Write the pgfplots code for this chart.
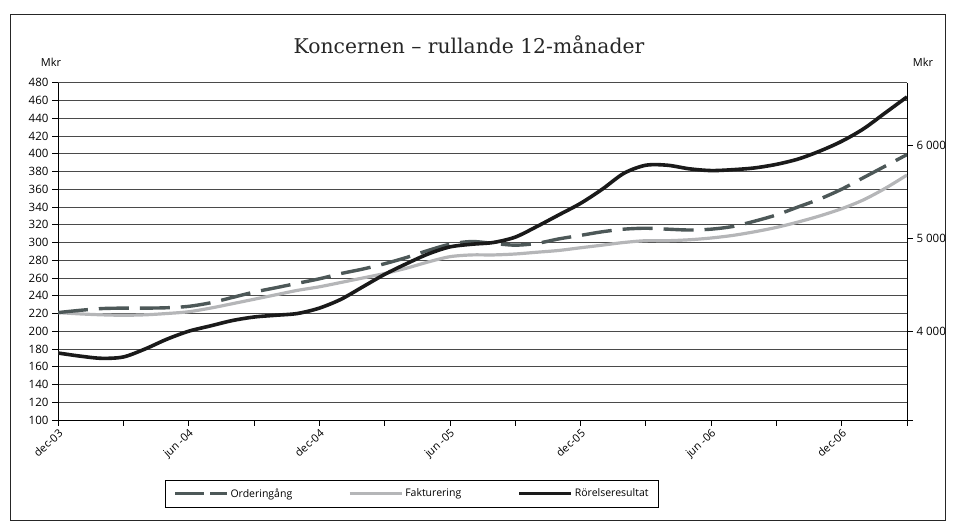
\documentclass[border=0pt]{standalone}
\usepackage{fontspec}
\setmainfont{Open Sans}
\newfontfamily\titlefont{DejaVu Serif}
\usepackage{pgfplots}
\pgfplotsset{compat=1.18}
\usepackage{pgfplotstable}
\definecolor{ordc}{HTML}{4D5858}
\definecolor{fakc}{HTML}{B5B6B8}
\definecolor{resc}{HTML}{1A1A1A}
\definecolor{gridc}{HTML}{4A4A4A}

\pgfplotstableread{
m res ord fak
0 175.5 4198 4198
1 172 4222 4184
2 169.5 4241 4174
3 171 4246 4169
4 180 4246 4174
5 191 4250 4188
6 200 4265 4207
7 206 4303 4246
8 212 4360 4293
9 216 4418 4341
10 218 4465 4389
11 220 4513 4437
12 226 4561 4475
13 236 4618 4522
14 250 4666 4570
15 264 4723 4618
16 276 4790 4675
17 287 4866 4742
18 295 4933 4799
19 298 4962 4818
20 300 4942 4818
21 306 4923 4828
22 318 4942 4847
23 331 4990 4866
24 344 5028 4895
25 360 5067 4923
26 378 5095 4952
27 387 5105 4971
28 387 5095 4971
29 383 5086 4981
30 381 5095 5000
31 382 5124 5028
32 384 5181 5067
33 388 5248 5114
34 394 5334 5172
35 403 5420 5238
36 414 5525 5315
37 428 5649 5410
38 446 5773 5534
39 464 5897 5677
}\data

\begin{document}
\begin{tikzpicture}
\useasboundingbox (0pt,0pt) rectangle (955pt,527pt);
\draw[line width=0.8pt, black!85] (10pt,7pt) rectangle (945pt,513pt);
\node[font=\titlefont\fontsize{20.3}{24}\selectfont, text=black!85] at (469pt,482pt) {Koncernen – rullande 12-månader};
\node[font=\fontsize{11}{12}\selectfont] at (51pt,465pt) {Mkr};
\node[font=\fontsize{11}{12}\selectfont] at (923pt,465pt) {Mkr};

\pgfplotsset{
  base/.style={
    at={(58pt,107pt)}, anchor=south west, scale only axis,
    width=849pt, height=337.3pt,
    xmin=0, xmax=39,
    /pgf/number format/assume math mode=true,
    tick align=outside, major tick length=6pt, minor tick length=6pt,
    tick style={black, line width=0.6pt},
    axis line style={black, line width=0.8pt},
  }
}

% axis 1: grid, x ticks, left y ticks
\begin{axis}[base,
  ymin=100, ymax=480,
  axis x line*=bottom, axis y line*=left,
  xtick={0,6,...,36},
  minor xtick={3,9,...,39},
  xticklabels={dec-03,jun -04,dec-04,jun -05,dec-05,jun -06,dec-06},
  xticklabel style={rotate=42, anchor=north east, font=\fontsize{11}{12}\selectfont, inner sep=1.5pt},
  ytick={100,120,...,480},
  yticklabel style={font=\fontsize{11.5}{12}\selectfont},
  ymajorgrids, grid style={gridc, line width=0.7pt},
  minor grid style={draw=none},
]
\end{axis}

% axis 2: right scale with Orderingång and Fakturering
\begin{axis}[base,
  ymin=3043, ymax=6670,
  axis x line=none, axis y line*=right,
  xtick=\empty,
  ytick={3043,4000,5000,6000},
  yticklabels={,4 000,5 000,6 000},
  yticklabel style={font=\fontsize{11.5}{12}\selectfont},
]
\addplot[fakc, line width=3.2pt, smooth, tension=0.5] table[x=m, y=fak] {\data};
\addplot[ordc, line width=3.4pt, dash pattern=on 30pt off 11pt, smooth, tension=0.5] table[x=m, y=ord] {\data};
\end{axis}

% axis 3: left scale, Rörelseresultat, legend
\begin{axis}[base,
  ymin=100, ymax=480,
  axis x line=none, axis y line=none,
  xtick=\empty, ytick=\empty,
  legend style={at={(0.417,-0.218)}, anchor=center, draw=black, line width=0.6pt,
    font=\fontsize{10.5}{12}\selectfont, legend columns=3,
    /tikz/every even column/.append style={column sep=54pt},
    inner xsep=8pt, inner ysep=6.5pt},
  legend image code/.code={\draw[#1] (0pt,0pt) -- (52pt,0pt);},
]
\addlegendimage{ordc, line width=3pt, dash pattern=on 29pt off 6pt}
\addlegendimage{fakc, line width=3pt}
\addplot[resc, line width=3.6pt, smooth, tension=0.5] table[x=m, y=res] {\data};
\legend{Orderingång,Fakturering,Rörelseresultat}
\end{axis}
\end{tikzpicture}
\end{document}
